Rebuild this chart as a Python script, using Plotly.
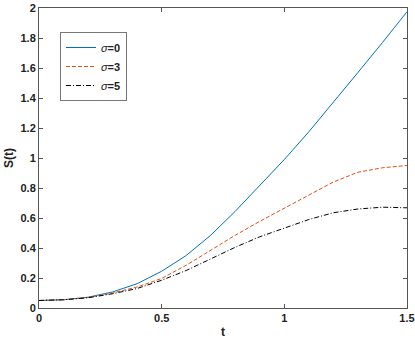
import plotly.graph_objects as go

t = [0, 0.1, 0.2, 0.3, 0.4, 0.5, 0.6, 0.7, 0.8, 0.9, 1.0, 1.1, 1.2, 1.3, 1.4, 1.5]
s_sigma0 = [0.05, 0.055, 0.072, 0.107, 0.162, 0.245, 0.35, 0.485, 0.645, 0.815, 0.99, 1.175, 1.37, 1.57, 1.77, 1.975]
s_sigma3 = [0.05, 0.055, 0.07, 0.10, 0.14, 0.197, 0.285, 0.385, 0.485, 0.578, 0.665, 0.755, 0.84, 0.905, 0.935, 0.95]
s_sigma5 = [0.05, 0.055, 0.068, 0.095, 0.13, 0.185, 0.25, 0.33, 0.405, 0.475, 0.53, 0.59, 0.635, 0.66, 0.672, 0.668]

names = ["<i>σ</i><b>=0</b>", "<i>σ</i><b>=3</b>", "<i>σ</i><b>=5</b>"]
colors = ["#0072BD", "#D95319", "#000000"]
dashes = ["solid", "4px,2px", "5px,2px,1px,2px"]

fig = go.Figure()
for ys, nm, c, d in zip([s_sigma0, s_sigma3, s_sigma5], names, colors, dashes):
    fig.add_trace(go.Scatter(x=t, y=ys, mode="lines", name=nm,
                             line=dict(color=c, width=1, dash=d)))

axis_style = dict(showline=True, linecolor="#555555", linewidth=1, mirror="ticks",
                  ticks="inside", ticklen=4, tickcolor="#555555", showgrid=False,
                  zeroline=False, automargin=False, tickfont=dict(size=11, color="#222222"))

fig.update_layout(
    width=415, height=344,
    margin=dict(l=39, r=8, t=8, b=36),
    paper_bgcolor="white", plot_bgcolor="white",
    font=dict(family="Liberation Sans, Arial", size=11, color="#222222"),
    xaxis=dict(range=[0, 1.5], tickvals=[0, 0.5, 1, 1.5], ticktext=["<b>0</b>", "<b>0.5</b>", "<b>1</b>", "<b>1.5</b>"],
               title=dict(text="<b>t</b>", standoff=4, font=dict(size=12)), **axis_style),
    yaxis=dict(range=[0, 2], tickvals=[0, 0.2, 0.4, 0.6, 0.8, 1, 1.2, 1.4, 1.6, 1.8, 2],
               ticktext=["<b>%s</b>" % v for v in ["0", "0.2", "0.4", "0.6", "0.8", "1", "1.2", "1.4", "1.6", "1.8", "2"]],
               title=dict(text="<b>S(t)</b>", standoff=4, font=dict(size=12)), **axis_style),
    legend=dict(x=0.057, y=0.92, xanchor="left", yanchor="top", itemwidth=30,
                bgcolor="white", bordercolor="#777777", borderwidth=1,
                font=dict(size=11, color="#222222"), tracegroupgap=0),
    showlegend=True,
)

# drop the browser's default body margin so the figure sits at the page corner
fig.write_html("out.html", config={"displayModeBar": False},
               post_script="document.body.style.margin='0';")
